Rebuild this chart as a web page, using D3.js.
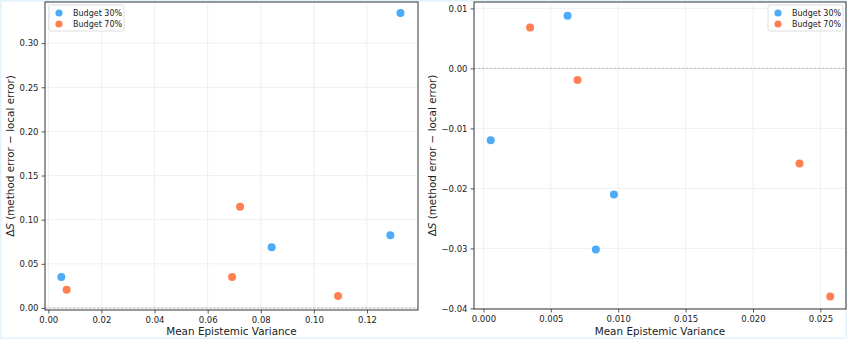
<!DOCTYPE html>
<html>
<head>
<meta charset="utf-8">
<script src="https://cdn.jsdelivr.net/npm/d3@7"></script>
<style>
  body { margin: 0; background: #fff; }
  svg { display: block; font-family: "DejaVu Sans", sans-serif; }
</style>
</head>
<body>
<svg id="chart" width="847" height="339"></svg>
<script>
// values
const seriesNames = ['Budget 30%', 'Budget 70%'];
const seriesColors = ['#4dabf7', '#ff7f50'];

// left panel
const leftX30 = [0.0049, 0.0841, 0.1288, 0.1326];
const leftY30 = [0.035, 0.0688, 0.0824, 0.334];
const leftX70 = [0.0069, 0.0722, 0.0692, 0.1091];
const leftY70 = [0.0205, 0.1148, 0.035, 0.0137];
const leftXTicks = [0, 0.02, 0.04, 0.06, 0.08, 0.10, 0.12];
const leftYTicks = [0, 0.05, 0.10, 0.15, 0.20, 0.25, 0.30];

// right panel
const rightX30 = [0.00624, 0.00054, 0.00968, 0.00834];
const rightY30 = [0.00878, -0.01197, -0.0210, -0.03017];
const rightX70 = [0.00346, 0.00698, 0.02345, 0.02573];
const rightY70 = [0.00684, -0.00195, -0.01586, -0.03801];
const rightXTicks = [0, 0.005, 0.010, 0.015, 0.020, 0.025];
const rightYTicks = [-0.04, -0.03, -0.02, -0.01, 0, 0.01];

const svg = d3.select('#chart');

// faint frame round the picture
svg.append('rect')
  .attr('x', 0.5).attr('y', 0.5)
  .attr('width', 846).attr('height', 338)
  .attr('fill', 'none')
  .attr('stroke', '#e4f2fc')
  .attr('stroke-width', 2);

function panel(opts) {
  const { left, right, top, bottom, xDomain, yDomain, xTicks, yTicks, xFmt, yFmt, series, legendRight, labelX } = opts;

  const x = d3.scaleLinear().domain(xDomain).range([left, right]);
  const y = d3.scaleLinear().domain(yDomain).range([bottom, top]);
  const g = svg.append('g');

  // grid
  g.append('g').selectAll('line').data(xTicks).join('line')
    .attr('x1', d => x(d)).attr('x2', d => x(d))
    .attr('y1', top).attr('y2', bottom)
    .attr('stroke', '#ebebeb').attr('stroke-width', 0.8);
  g.append('g').selectAll('line').data(yTicks).join('line')
    .attr('y1', d => y(d)).attr('y2', d => y(d))
    .attr('x1', left).attr('x2', right)
    .attr('stroke', '#ebebeb').attr('stroke-width', 0.8);

  // zero line
  g.append('line')
    .attr('x1', left).attr('x2', right)
    .attr('y1', y(0)).attr('y2', y(0))
    .attr('stroke', '#aaa').attr('stroke-width', 0.8)
    .attr('stroke-dasharray', '2.5,1.5');

  // axes
  const xAxis = g.append('g')
    .attr('transform', `translate(0,${bottom})`)
    .call(d3.axisBottom(x).tickValues(xTicks).tickFormat(xFmt).tickSize(3.5).tickPadding(3));
  const yAxis = g.append('g')
    .attr('transform', `translate(${left},0)`)
    .call(d3.axisLeft(y).tickValues(yTicks).tickFormat(yFmt).tickSize(3.5).tickPadding(3));
  [xAxis, yAxis].forEach(a => {
    a.select('.domain').remove();
    a.selectAll('line').attr('stroke', '#333').attr('stroke-width', 0.8);
    a.selectAll('text').attr('fill', '#222').style('font-size', '8.5px')
      .style('font-family', '"DejaVu Sans", sans-serif');
  });

  // spines
  g.append('rect')
    .attr('x', left).attr('y', top)
    .attr('width', right - left).attr('height', bottom - top)
    .attr('fill', 'none').attr('stroke', '#333').attr('stroke-width', 1);

  // points
  series.forEach((s, i) => {
    g.append('g').selectAll('circle').data(d3.zip(s[0], s[1])).join('circle')
      .attr('cx', d => x(d[0])).attr('cy', d => y(d[1]))
      .attr('r', 4)
      .attr('fill', seriesColors[i]);
  });

  // axis labels
  g.append('text')
    .attr('x', (left + right) / 2).attr('y', 334.5)
    .attr('text-anchor', 'middle')
    .style('font-size', '10.4px').attr('fill', '#222')
    .text('Mean Epistemic Variance');

  const yl = g.append('text')
    .attr('transform', `translate(${labelX},${(top + bottom) / 2}) rotate(-90)`)
    .attr('text-anchor', 'middle')
    .style('font-size', '10.4px').attr('fill', '#222');
  yl.append('tspan').text('Δ');
  yl.append('tspan').style('font-style', 'italic').text('S');
  yl.append('tspan').text(' (method error \u2212 local error)');

  // legend
  const lw = 75, lh = 26;
  const lx = legendRight ? right - lw - 3 : left + 4;
  const ly = top + 3;
  const lg = g.append('g').attr('transform', `translate(${lx},${ly})`);
  lg.append('rect')
    .attr('width', lw).attr('height', lh).attr('rx', 2)
    .attr('fill', '#fff').attr('fill-opacity', 0.8)
    .attr('stroke', '#d6d6d6').attr('stroke-width', 0.8);
  seriesNames.forEach((n, i) => {
    lg.append('circle').attr('cx', 10).attr('cy', 8 + i * 11).attr('r', 3.6).attr('fill', seriesColors[i]);
    lg.append('text').attr('x', 24).attr('y', 8 + i * 11).attr('dy', '0.35em')
      .style('font-size', '8px').attr('fill', '#222').text(n);
  });
}

panel({
  left: 45, right: 418, top: 2, bottom: 310,
  xDomain: [-0.00125, 0.1392], yDomain: [-0.0023, 0.3466],
  xTicks: leftXTicks, yTicks: leftYTicks,
  xFmt: d3.format('.2f'), yFmt: d3.format('.2f'),
  series: [[leftX30, leftY30], [leftX70, leftY70]],
  legendRight: false, labelX: 14
});

panel({
  left: 474, right: 846, top: 2, bottom: 309,
  xDomain: [-0.0007, 0.0269], yDomain: [-0.0401, 0.01107],
  xTicks: rightXTicks, yTicks: rightYTicks,
  xFmt: d3.format('.3f'), yFmt: d => d3.format('.2f')(d).replace('-', '\u2212'),
  series: [[rightX30, rightY30], [rightX70, rightY70]],
  legendRight: true, labelX: 436
});
</script>
</body>
</html>
